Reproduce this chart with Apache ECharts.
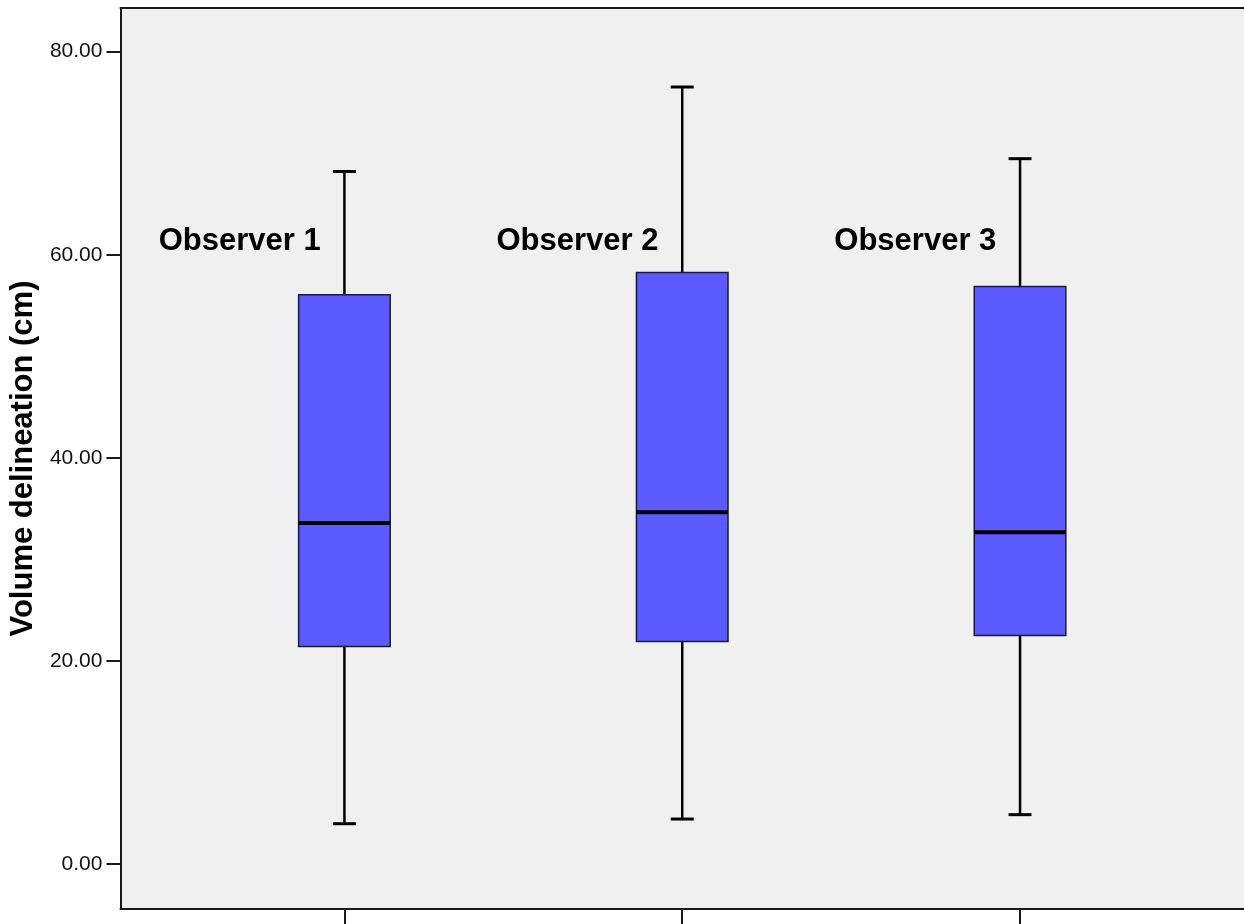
<!DOCTYPE html>
<html>
<head>
<meta charset="utf-8">
<script src="https://cdn.jsdelivr.net/npm/echarts@6/dist/echarts.min.js"></script>
<style>
html,body{margin:0;padding:0;background:#fff;}
#chart{width:1244px;height:924px;}
</style>
</head>
<body>
<div id="chart"></div>
<script>
// ---- data ----
const categories = ['Observer 1', 'Observer 2', 'Observer 3'];
const positions = [1, 2, 3];
const minValues    = [3.97, 4.43, 4.86];
const q1Values     = [21.43, 21.92, 22.51];
const medianValues = [33.58, 34.63, 32.66];
const q3Values     = [56.07, 58.26, 56.88];
const maxValues    = [68.2, 76.52, 69.46];
const yTickValues  = [0, 20, 40, 60, 80];

// ---- styling constants ----
const BOX_W = 0.271;   // box width in category units
const CAP_W = 0.068;   // whisker cap width
const LABEL_DX = -0.31;
const LABEL_Y = 61.3;

const boxData = positions.map((p, i) => [p, minValues[i], q1Values[i], medianValues[i], q3Values[i], maxValues[i]]);
const labelData = positions.map((p, i) => ({ value: [p + LABEL_DX, LABEL_Y], name: categories[i] }));

const chart = echarts.init(document.getElementById('chart'), null, { renderer: 'canvas' });
const FONT = 'Liberation Sans, Arial, sans-serif';

const option = {
  backgroundColor: '#ffffff',
  animation: false,
  grid: {
    left: 120, top: 8, right: -4, bottom: 15,
    show: true, backgroundColor: '#f0f0f0', borderWidth: 0,
    containLabel: false
  },
  xAxis: [
    {
      type: 'value', min: 0.337, max: 3.663, position: 'bottom',
      splitLine: { show: false },
      axisLine: { show: true, onZero: false, lineStyle: { color: '#1a1a1a', width: 2 } },
      axisTick: { show: true, customValues: positions, length: 16, lineStyle: { color: '#1a1a1a', width: 2 } },
      axisLabel: { show: false }
    },
    {
      type: 'value', min: 0.337, max: 3.663, position: 'top',
      splitLine: { show: false },
      axisLine: { show: true, onZero: false, lineStyle: { color: '#1a1a1a', width: 2 } },
      axisTick: { show: false },
      axisLabel: { show: false }
    }
  ],
  yAxis: {
    type: 'value', min: -4.43, max: 84.3,
    name: 'Volume delineation (cm)',
    nameLocation: 'middle', nameGap: 77,
    nameTextStyle: { fontFamily: FONT, fontWeight: 'bold', fontSize: 31, color: '#000' },
    splitLine: { show: false },
    axisLine: { show: true, onZero: false, lineStyle: { color: '#1a1a1a', width: 2 } },
    axisTick: { show: true, customValues: yTickValues, length: 14, lineStyle: { color: '#1a1a1a', width: 2 } },
    axisLabel: {
      show: true, customValues: yTickValues, margin: 18,
      formatter: v => v.toFixed(2),
      fontFamily: FONT, fontSize: 21, color: '#111'
    }
  },
  series: [
    {
      type: 'custom',
      xAxisIndex: 0,
      data: boxData,
      encode: { x: 0, y: [1, 2, 3, 4, 5] },
      renderItem: function (params, api) {
        const x = api.value(0);
        const pMin = api.coord([x, api.value(1)]);
        const pQ1 = api.coord([x, api.value(2)]);
        const pMed = api.coord([x, api.value(3)]);
        const pQ3 = api.coord([x, api.value(4)]);
        const pMax = api.coord([x, api.value(5)]);
        const unit = api.size([1, 0])[0];
        const hb = unit * BOX_W / 2;
        const hc = unit * CAP_W / 2;
        const cx = pMed[0];
        const lineStyle = { stroke: '#000', lineWidth: 2.5 };
        return {
          type: 'group',
          children: [
            { type: 'line', shape: { x1: cx, y1: pMin[1], x2: cx, y2: pQ1[1] }, style: lineStyle },
            { type: 'line', shape: { x1: cx, y1: pQ3[1], x2: cx, y2: pMax[1] }, style: lineStyle },
            { type: 'line', shape: { x1: cx - hc, y1: pMin[1], x2: cx + hc, y2: pMin[1] }, style: { stroke: '#000', lineWidth: 3 } },
            { type: 'line', shape: { x1: cx - hc, y1: pMax[1], x2: cx + hc, y2: pMax[1] }, style: { stroke: '#000', lineWidth: 3 } },
            { type: 'rect', shape: { x: cx - hb, y: pQ3[1], width: hb * 2, height: pQ1[1] - pQ3[1] },
              style: { fill: '#5a5aff', stroke: '#1a1a33', lineWidth: 1.5 } },
            { type: 'line', shape: { x1: cx - hb, y1: pMed[1], x2: cx + hb, y2: pMed[1] }, style: { stroke: '#000', lineWidth: 4 } }
          ]
        };
      }
    },
    {
      type: 'scatter',
      xAxisIndex: 0,
      data: labelData,
      symbolSize: 0,
      itemStyle: { opacity: 1 },
      label: {
        show: true, position: 'inside', formatter: p => p.name,
        fontFamily: FONT, fontWeight: 'bold', fontSize: 31, color: '#000'
      },
      silent: true
    }
  ]
};
chart.setOption(option);
</script>
</body>
</html>
